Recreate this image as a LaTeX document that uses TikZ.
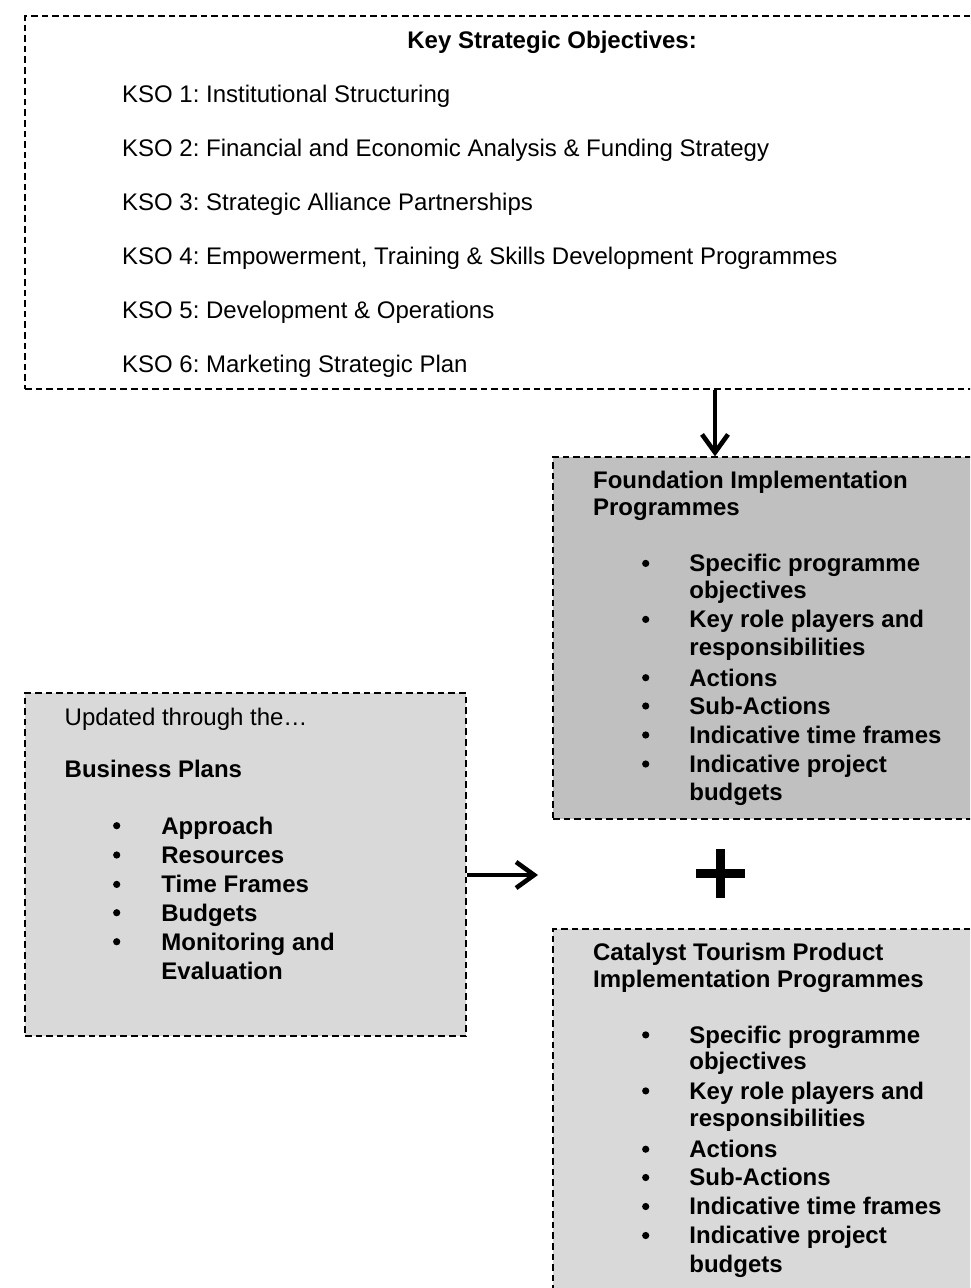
\documentclass[tikz,border=0pt]{standalone}
\usepackage{fontspec}
\setmainfont{Liberation Sans}
\usetikzlibrary{arrows.meta}
\usetikzlibrary{fit}
\usepackage{xcolor}

\definecolor{panelgrey}{HTML}{D9D9D9}
\definecolor{darkpanel}{HTML}{C0C0C0}

\tikzset{
  box/.style={draw=black,line width=0.65pt,dash pattern=on 3.3pt off 2pt,inner sep=0pt},
  txt/.style={anchor=base west,inner sep=0pt,font=\fontsize{12}{14}\selectfont\frenchspacing},
  bold/.style={txt,font=\fontsize{12}{14}\selectfont\frenchspacing\bfseries},
  dot/.style={circle,fill=black,inner sep=0pt,minimum size=3.6pt},
  flow/.style={line width=2.3pt,-{Straight Barb[length=9pt,width=13pt,line width=2.3pt]}}
}

\begin{document}
\begin{tikzpicture}[x=0.5pt,y=-0.5pt]
\newcommand{\itemline}[5]{
  \node[dot] (#1-dot) at (#2,#4-8.3) {};
  \node[bold] (#1) at (#3,#4) {#5};
}

\clip (0,0) rectangle (970,1288);

% panels
\node[box,fit={(25,16) (1085,389)}] (kso) {};
\node[box,fill=darkpanel,fit={(553,457) (1085,819)}] (found) {};
\node[box,fill=panelgrey,fit={(25,693) (466,1036)}] (plans) {};
\node[box,fill=panelgrey,fit={(553,929) (1085,1300)}] (catalyst) {};

% connectors
\coordinate (drop) at (715,0);
\draw[flow] (kso.south -| drop) -- (found.north -| drop);
\coordinate (feed) at (538,875);
\draw[flow] (plans.east |- feed) -- (feed);

% the plus between the two programme panels
\coordinate (plus) at (720.5,873.5);
\draw[line width=4.85pt] (plus) ++(-24.5,0) -- ++(49,0)
                         (plus) ++(0,-24.5) -- ++(0,49);

% objectives
\node[bold] (kso-title) at (407,48.3) {Key Strategic Objectives:};
\node[txt] (kso-1) at (121.7,103) {KSO 1: Institutional Structuring};
\node[txt] (kso-2) at (121.7,156.8) {KSO 2: Financial and Economic Analysis \& Funding Strategy};
\node[txt] (kso-3) at (121.7,210.6) {KSO 3: Strategic Alliance Partnerships};
\node[txt] (kso-4) at (121.7,264.4) {KSO 4: Empowerment, Training \& Skills Development Programmes};
\node[txt] (kso-5) at (121.7,318.2) {KSO 5: Development \& Operations};
\node[txt] (kso-6) at (121.7,372) {KSO 6: Marketing Strategic Plan};

% business plans
\node[txt] (plans-intro) at (64.3,725) {Updated through the…};
\node[bold] (plans-title) at (64.3,777.7) {Business Plans};
\itemline{plans-1}{116.7}{161}{834}{Approach}
\itemline{plans-2}{116.7}{161}{863.3}{Resources}
\itemline{plans-3}{116.7}{161}{892.7}{Time Frames}
\itemline{plans-4}{116.7}{161}{921}{Budgets}
\itemline{plans-5}{116.7}{161}{950}{Monitoring and}
\node[bold] (plans-5b) at (161,979.3) {Evaluation};

% foundation programmes
\node[bold] (found-title) at (592.7,488.3) {Foundation Implementation};
\node[bold] (found-title2) at (592.7,515) {Programmes};
\itemline{found-1}{645.7}{689}{571.7}{Specific programme}
\node[bold] (found-1b) at (689,598.3) {objectives};
\itemline{found-2}{645.7}{689}{627.7}{Key role players and}
\node[bold] (found-2b) at (689,655) {responsibilities};
\itemline{found-3}{645.7}{689}{686}{Actions}
\itemline{found-4}{645.7}{689}{714.3}{Sub-Actions}
\itemline{found-5}{645.7}{689}{743.3}{Indicative time frames}
\itemline{found-6}{645.7}{689}{772.3}{Indicative project}
\node[bold] (found-6b) at (689,800.7) {budgets};

% catalyst programmes
\node[bold] (cat-title) at (592.7,960) {Catalyst Tourism Product};
\node[bold] (cat-title2) at (592.7,987.3) {Implementation Programmes};
\itemline{cat-1}{645.7}{689}{1043.2}{Specific programme}
\node[bold] (cat-1b) at (689,1069.8) {objectives};
\itemline{cat-2}{645.7}{689}{1099.2}{Key role players and}
\node[bold] (cat-2b) at (689,1126.5) {responsibilities};
\itemline{cat-3}{645.7}{689}{1157.5}{Actions}
\itemline{cat-4}{645.7}{689}{1185.8}{Sub-Actions}
\itemline{cat-5}{645.7}{689}{1214.8}{Indicative time frames}
\itemline{cat-6}{645.7}{689}{1243.8}{Indicative project}
\node[bold] (cat-6b) at (689,1272.2) {budgets};

\end{tikzpicture}
\end{document}
